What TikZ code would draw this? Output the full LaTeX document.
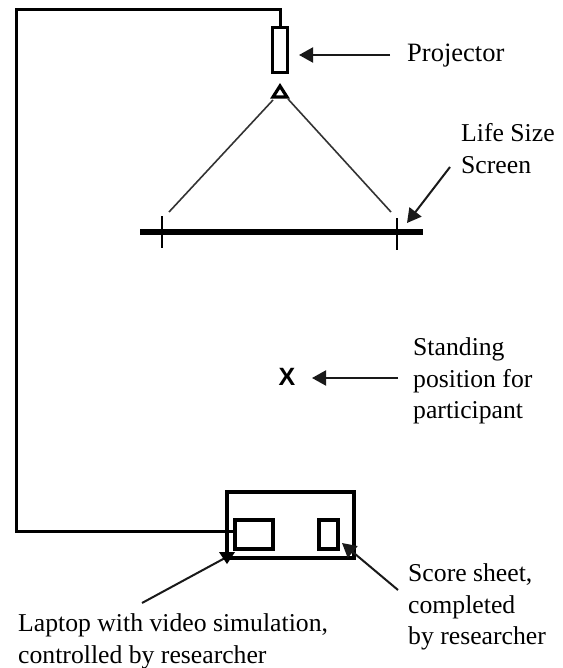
\documentclass[tikz,border=0pt]{standalone}
\usepackage{fontspec}
\setmainfont{Liberation Serif}
\setsansfont{Liberation Sans}
\usetikzlibrary{arrows.meta}
\tikzset{
  wire/.style={line width=3pt,black},
  thinline/.style={line width=1.6pt,black!80},
  arr/.style={line width=2pt,black!90,-{Triangle[length=14pt,width=15pt]}},
  lab/.style={font=\fontsize{25.7}{31.7}\selectfont,align=left,anchor=west,inner sep=0pt},
  boxs/.style={draw,line width=3.2pt,black,minimum width=#1,inner sep=0pt},
  tri/.style={draw,line width=3.2pt,black}
}
\begin{document}
\begin{tikzpicture}[x=1pt,y=-1pt]
\useasboundingbox[fill=white] (0,0) rectangle (562,668);
\node[boxs=15pt,minimum height=45pt] (proj) at (280,50) {};
\draw[tri,line join=miter] (280,86) -- (287,97) -- (273,97) -- cycle;
\coordinate (cornerA) at (280,10);
\coordinate (cornerB) at (16,10);
\coordinate (cornerC) at (16,531);
\node[boxs=127pt,minimum height=66pt] (table) at (290.5,525) {};
\node[boxs=38pt,minimum height=29pt] (laptop) at (254,534.5) {};
\node[boxs=19pt,minimum height=29pt] (score) at (328.5,534.5) {};
\draw[wire] (proj.north) -- (cornerA) -- (cornerB) -- (cornerC) -- (laptop.west |- cornerC);
\coordinate (beamApex1) at (273,100);
\coordinate (beamApex2) at (288,99);
\coordinate (beamL) at (169,212);
\coordinate (beamR) at (391,212);
\draw[thinline] (beamApex1) -- (beamL);
\draw[thinline] (beamApex2) -- (beamR);
\coordinate (scrL) at (140,232);
\coordinate (scrR) at (423,232);
\draw[line width=6.5pt,black] (scrL) -- (scrR);
\draw[thinline,black] (162,216) -- (162,248);
\draw[thinline,black] (397,218) -- (397,250);
\node[lab,font=\fontsize{26.5}{32}\selectfont] (lproj) at (407,56) {Projector};
\node[lab] (lscreen) at (461,148.5) {Life Size\\Screen};
\node[lab] (lstand) at (413,381) {Standing\\position for\\participant};
\node[lab] (lscore) at (408,607) {Score sheet,\\completed\\by researcher};
\node[lab] (llap) at (18,641) {Laptop with video simulation,\\controlled by researcher};
\node[font=\sffamily\bfseries\fontsize{25}{30}\selectfont,inner sep=0pt] (x) at (287,377) {X};
\draw[arr] (390,55) -- (299,55);
\draw[arr] (450,167) -- (407,223);
\draw[arr] (398,378) -- (312,378);
\draw[arr,-] (142,603) -- (225,558);
\fill[black] (227,564) -- (219,552) -- (235,552) -- cycle;
\draw[arr] (398,590) -- (342,543);
\end{tikzpicture}
\end{document}
